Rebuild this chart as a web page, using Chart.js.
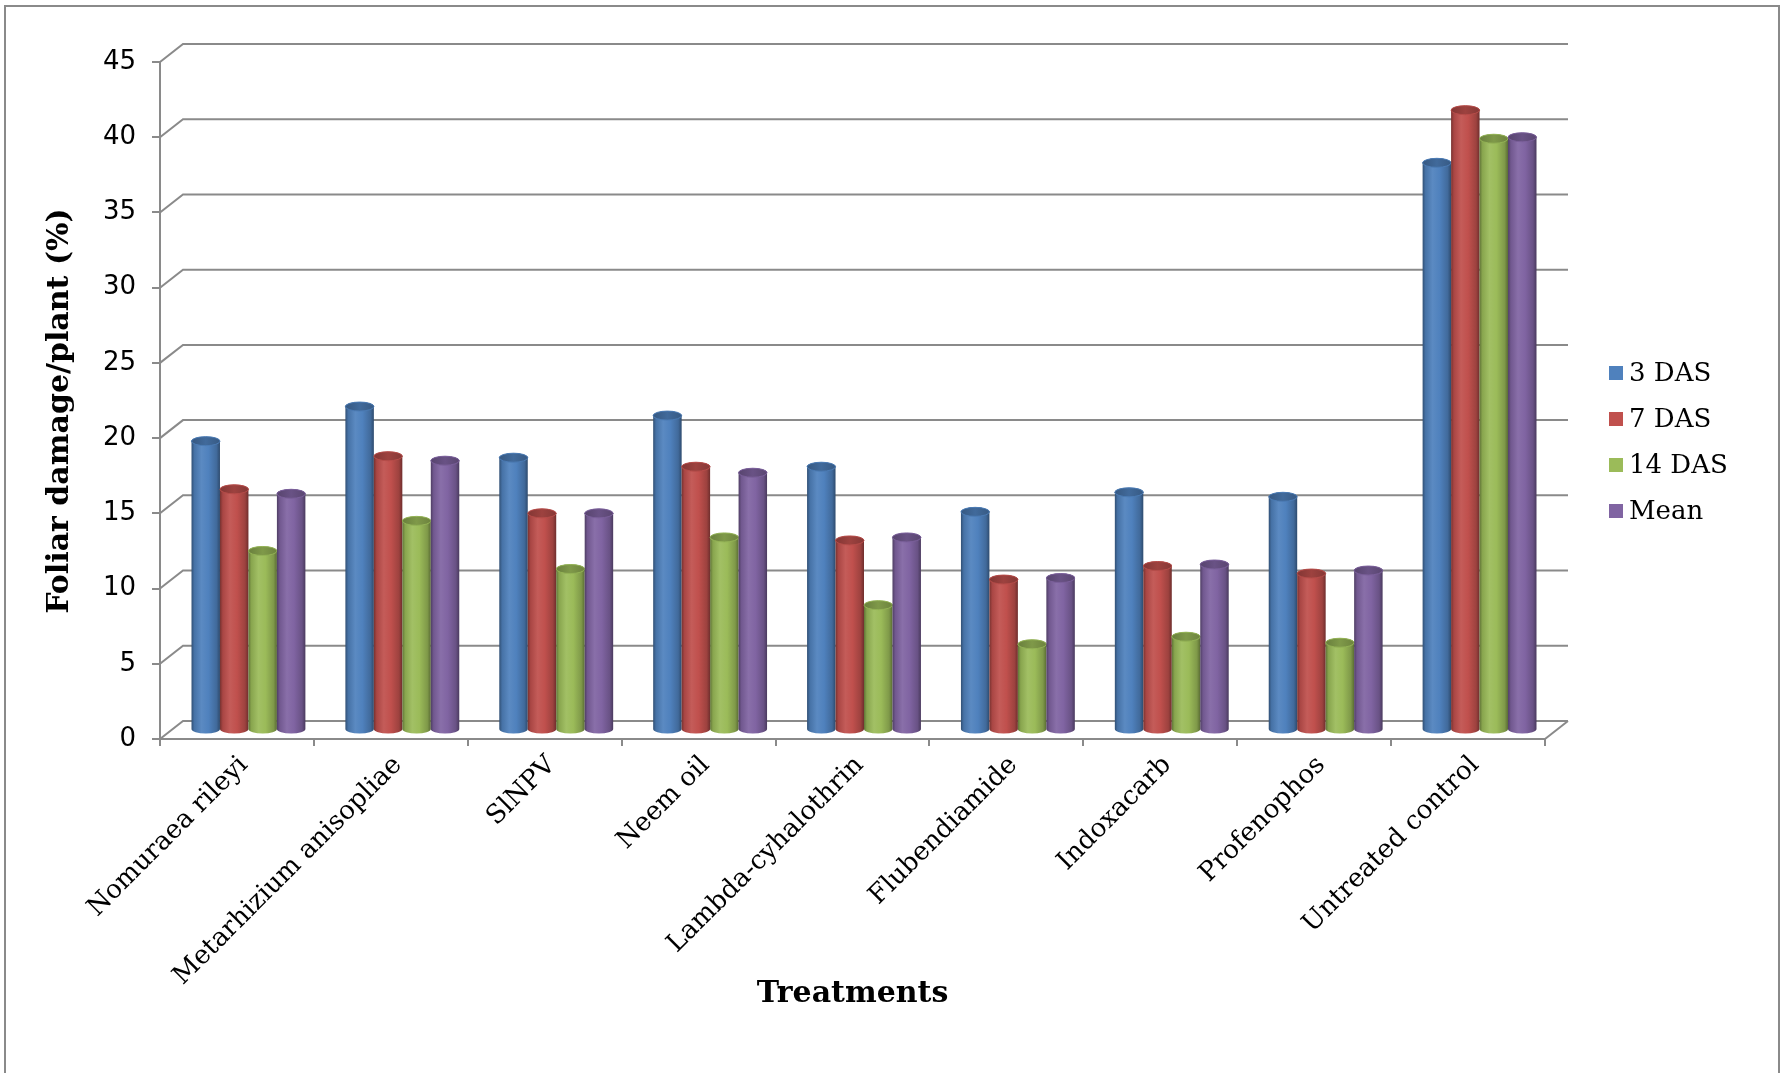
<!DOCTYPE html>
<html>
<head>
<meta charset="utf-8">
<title>Foliar damage per plant by treatment</title>
<script src="https://cdn.jsdelivr.net/npm/chart.js@4.4.1/dist/chart.umd.min.js"></script>
<style>
  html, body { margin: 0; padding: 0; background: #ffffff; overflow: hidden; }
  canvas { display: block; }
</style>
</head>
<body>
<canvas id="chart" width="1787" height="1073"></canvas>
<script>
// ---- data ----
const treatments = [
  'Nomuraea rileyi', 'Metarhizium anisopliae', 'SlNPV', 'Neem oil',
  'Lambda-cyhalothrin', 'Flubendiamide', 'Indoxacarb', 'Profenophos', 'Untreated control'
];
const das3  = [19.2, 21.5, 18.1, 20.9, 17.5, 14.5, 15.8, 15.5, 37.7];
const das7  = [16.0, 18.2, 14.4, 17.5, 12.6, 10.0, 10.9, 10.4, 41.2];
const das14 = [11.9, 13.9, 10.7, 12.8,  8.3,  5.7,  6.2,  5.8, 39.3];
const meanDamage = [15.7, 17.9, 14.4, 17.1, 12.8, 10.1, 11.0, 10.6, 39.4];
const seriesNames = ['3 DAS', '7 DAS', '14 DAS', 'Mean'];
const seriesValues = [das3, das7, das14, meanDamage];
const yMin = 0, yMax = 45, yStep = 5;
const yTitle = 'Foliar damage/plant (%)';
const xTitle = 'Treatments';

// ---- styling ----
const seriesColors = ['#4F81BD', '#C0504D', '#9BBB59', '#8064A2'];
const lineGrey = '#8a8a8a';
const DEPTH = { dx: 23, dy: -18 };   // offset from the front plane to the back wall

function shade(hex, p) {
  const n = parseInt(hex.slice(1), 16);
  let r = n >> 16, g = (n >> 8) & 255, b = n & 255;
  const t = p < 0 ? 0 : 255, a = Math.abs(p);
  r = Math.round((t - r) * a + r);
  g = Math.round((t - g) * a + g);
  b = Math.round((t - b) * a + b);
  return `rgb(${r},${g},${b})`;
}

// cylinder drawn between a top centre and a base centre
function drawCylinder(ctx, cx, top, base, w, color) {
  const rx = w / 2, ry = 4.5;
  const l = cx - rx, r = cx + rx;
  const body = ctx.createLinearGradient(l, 0, r, 0);
  body.addColorStop(0.00, shade(color, -0.38));
  body.addColorStop(0.10, shade(color, -0.12));
  body.addColorStop(0.35, shade(color, 0.07));
  body.addColorStop(0.60, color);
  body.addColorStop(0.88, shade(color, -0.18));
  body.addColorStop(1.00, shade(color, -0.42));
  ctx.beginPath();
  ctx.moveTo(l, top);
  ctx.lineTo(l, base);
  ctx.ellipse(cx, base, rx, ry, 0, Math.PI, 0, true);
  ctx.lineTo(r, top);
  ctx.ellipse(cx, top, rx, ry, 0, 0, Math.PI, true);
  ctx.closePath();
  ctx.fillStyle = body;
  ctx.fill();

  const cap = ctx.createLinearGradient(l, 0, r, 0);
  cap.addColorStop(0, shade(color, -0.32));
  cap.addColorStop(0.5, shade(color, -0.18));
  cap.addColorStop(1, shade(color, -0.30));
  ctx.beginPath();
  ctx.ellipse(cx, top, rx, ry, 0, 0, Math.PI * 2);
  ctx.fillStyle = cap;
  ctx.fill();
  ctx.lineWidth = 1;
  ctx.strokeStyle = shade(color, -0.05);
  ctx.stroke();
}

const chartFrame = {
  id: 'chartFrame',
  beforeDraw(chart) {
    const { ctx, width, height } = chart;
    ctx.save();
    ctx.fillStyle = '#ffffff';
    ctx.fillRect(0, 0, width, height);
    ctx.strokeStyle = lineGrey;
    ctx.lineWidth = 2;
    ctx.strokeRect(5, 6, width - 13, height + 20);
    ctx.restore();
  },
  beforeDatasetsDraw(chart) {
    // back wall gridlines, side-wall diagonals and the floor edge
    const { ctx, chartArea: { left, right, bottom }, scales: { y } } = chart;
    ctx.save();
    ctx.strokeStyle = lineGrey;
    ctx.lineWidth = 2;
    ctx.beginPath();
    y.ticks.forEach(t => {
      const py = y.getPixelForValue(t.value);
      ctx.moveTo(left, py);
      ctx.lineTo(left + DEPTH.dx, py + DEPTH.dy);
      ctx.lineTo(right + DEPTH.dx, py + DEPTH.dy);
    });
    ctx.moveTo(right, bottom);
    ctx.lineTo(right + DEPTH.dx, bottom + DEPTH.dy);
    ctx.stroke();
    ctx.restore();
  },
  afterDatasetsDraw(chart) {
    // bars stand half-way into the depth of the plot
    const { ctx } = chart;
    const ox = DEPTH.dx / 2, oy = DEPTH.dy / 2;
    ctx.save();
    chart.data.datasets.forEach((ds, i) => {
      const meta = chart.getDatasetMeta(i);
      if (meta.hidden) return;
      meta.data.forEach(bar => {
        const { x, y, base, width } = bar.getProps(['x', 'y', 'base', 'width'], true);
        drawCylinder(ctx, x + ox, y + oy, base + oy, width, seriesColors[i]);
      });
    });
    ctx.restore();
  },
  afterDraw(chart) {
    const { ctx } = chart;
    ctx.save();
    // vertical axis title
    ctx.font = 'bold 30px "DejaVu Serif"';
    ctx.fillStyle = '#000';
    ctx.textAlign = 'center';
    ctx.textBaseline = 'middle';
    ctx.translate(60, 411);
    ctx.rotate(-Math.PI / 2);
    ctx.fillText(yTitle, 0, 0);
    ctx.setTransform(1, 0, 0, 1, 0, 0);
    // legend
    ctx.font = '26px "DejaVu Serif"';
    ctx.textAlign = 'left';
    chart.data.datasets.forEach((ds, i) => {
      const cy = 373 + i * 46;
      ctx.fillStyle = seriesColors[i];
      ctx.fillRect(1609, cy - 7, 14, 14);
      ctx.fillStyle = '#000';
      ctx.fillText(ds.label, 1629, cy + 1);
    });
    ctx.restore();
  }
};

new Chart(document.getElementById('chart'), {
  type: 'bar',
  data: {
    labels: treatments,
    datasets: seriesNames.map((name, i) => ({
      label: name,
      data: seriesValues[i],
      backgroundColor: 'rgba(0,0,0,0)',
      borderWidth: 0,
      categoryPercentage: 0.74,
      barPercentage: 1.0
    }))
  },
  options: {
    responsive: false,
    animation: false,
    events: [],
    layout: { padding: { left: 0, top: 62, right: 242, bottom: 0 } },
    plugins: { legend: { display: false }, tooltip: { enabled: false } },
    scales: {
      x: {
        grid: { drawOnChartArea: false, drawTicks: true, tickLength: 7, color: lineGrey, lineWidth: 2, offset: true },
        border: { display: true, color: lineGrey, width: 2 },
        ticks: {
          autoSkip: false, minRotation: 45, maxRotation: 45, padding: 4, labelOffset: 7, color: '#000',
          font: { family: 'DejaVu Serif', size: 26 }
        },
        title: {
          display: true, text: xTitle, color: '#000',
          font: { family: 'DejaVu Serif', size: 30, weight: 'bold' },
          padding: { top: 0, bottom: 61 }
        },
        afterFit(scale) { scale.height = 334; }
      },
      y: {
        min: yMin, max: yMax,
        grid: { drawOnChartArea: false, drawTicks: true, tickLength: 8, color: lineGrey, lineWidth: 2 },
        border: { display: true, color: lineGrey, width: 2 },
        ticks: { stepSize: yStep, padding: 16, color: '#000', font: { family: 'DejaVu Sans', size: 26 } },
        title: { display: false, text: yTitle },
        afterFit(scale) { scale.width = 160; }
      }
    }
  },
  plugins: [chartFrame]
});
</script>
</body>
</html>
